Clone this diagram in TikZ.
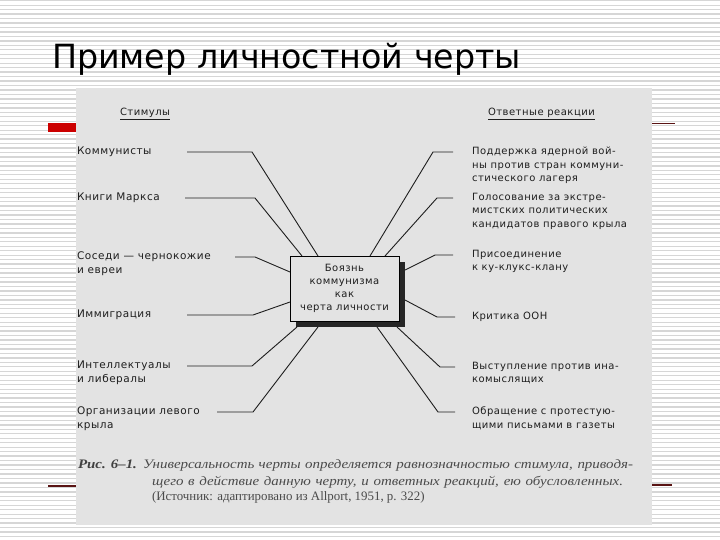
\documentclass[tikz,border=0pt]{standalone}
\usepackage{fontspec}
\setmainfont{Liberation Serif}
\newfontfamily\titlefont{DejaVu Sans}
\newfontfamily\scanfont[LetterSpace=5]{DejaVu Sans}
\newfontfamily\capfont[FakeStretch=1.15]{Liberation Serif}
\usetikzlibrary{calc,positioning,shadows}

\definecolor{stripe}{HTML}{D6D6D6}
\definecolor{scanbg}{HTML}{E3E3E3}
\definecolor{ink}{HTML}{1E1E1E}
\definecolor{capink}{HTML}{4A4A4A}
\definecolor{slidered}{HTML}{CC0000}
\definecolor{darkred}{HTML}{5A1414}

\tikzset{
  resp/.style={anchor=north west,align=left,text=ink,
    font=\scanfont\fontsize{10}{13.5}\selectfont},
  stim/.style={resp,font=\scanfont\fontsize{10.5}{13.5}\selectfont},
  head/.style={anchor=west,text=ink,font=\scanfont\fontsize{10}{12}\selectfont},
  wire/.style={draw=ink,line width=0.9pt},
  captext/.style={anchor=base west,text=capink,font=\capfont\fontsize{13}{15}\selectfont}
}

\begin{document}
\begin{tikzpicture}[x=1pt,y=-1pt,every node/.style={inner sep=0pt,outer sep=0pt}]
\useasboundingbox (0,0) rectangle (720,540);
\fill[white] (0,0) rectangle (720,540);
\foreach \k in {0,...,120}
  \draw[stripe,line width=1.3pt] (0,{0.7+4.465*\k}) -- (720,{0.7+4.465*\k});

% slide
\node[anchor=base west,font=\titlefont\fontsize{33.3}{34}\selectfont] (Title) at (52,69) {Пример личностной черты};
\fill[slidered] (48,123) rectangle (76,132);
\draw[darkred,line width=1.3pt] (650,123.5) -- (675,123.5);
\draw[darkred,line width=1.3pt] (48,486) -- (78,486);
\draw[darkred,line width=1.3pt] (650,485) -- (672,485);
\fill[scanbg] (76,88) rectangle (652,525);

% headers
\node[head] (Stimuly) at (120,114) {\underline{Стимулы}};
\node[head] (Reakcii) at (488,114) {\underline{Ответные реакции}};

% centre
\node[draw=black,line width=1pt,fill=scanbg,minimum width=109pt,minimum height=65pt,
  align=center,text=ink,font=\scanfont\fontsize{10}{13}\selectfont,
  drop shadow={shadow xshift=6pt,shadow yshift=-6pt,fill=black!85,opacity=1}]
  (Fear) at (344.5,288.5) {Боязнь\\коммунизма\\как\\черта личности};

% stimuli
\node[stim] (Kommunisty) at (77,147) {Коммунисты};
\node[stim] (Knigi) at (77,193) {Книги Маркса};
\node[stim] (Sosedi) at (77,252) {Соседи — чернокожие\\и евреи};
\node[stim] (Immigr) at (77,310) {Иммиграция};
\node[stim] (Intellekt) at (77,361) {Интеллектуалы\\и либералы};
\node[stim] (Organiz) at (77,407) {Организации левого\\крыла};

% responses
\node[resp] (Podderzhka) at (472,147) {Поддержка ядерной вой-\\ны против стран коммуни-\\стического лагеря};
\node[resp] (Golos) at (472,193) {Голосование за экстре-\\мистских политических\\кандидатов правого крыла};
\node[resp] (Prisoed) at (472,250) {Присоединение\\к ку-клукс-клану};
\node[resp] (Kritika) at (472,312) {Критика ООН};
\node[resp] (Vystup) at (472,362) {Выступление против ина-\\комыслящих};
\node[resp] (Obrash) at (472,407) {Обращение с протестую-\\щими письмами в газеты};

\draw[wire] ($(Kommunisty.north west)+(110,5)$) -- ++(65,0) -- ($(Fear.north west)+(28,0)$);
\draw[wire] ($(Knigi.north west)+(108,5)$) -- ++(70,0) -- ($(Fear.north west)+(12,0)$);
\draw[wire] ($(Sosedi.north west)+(158,5)$) -- ++(20,0) -- ($(Fear.north west)+(0,16)$);
\draw[wire] ($(Immigr.north west)+(110,5)$) -- ++(66,0) -- ($(Fear.north west)+(0,46)$);
\draw[wire] ($(Intellekt.north west)+(110,5)$) -- ++(65,0) -- ($(Fear.south west)+(7,6)$);
\draw[wire] ($(Organiz.north west)+(140,5)$) -- ++(36,0) -- ($(Fear.south west)+(28,6)$);

\draw[wire] ($(Podderzhka.north west)+(-19,5)$) -- ++(-20,0) -- ($(Fear.north west)+(80,0)$);
\draw[wire] ($(Golos.north west)+(-19,5)$) -- ++(-16,0) -- ($(Fear.north west)+(95,0)$);
\draw[wire] ($(Prisoed.north west)+(-19,5)$) -- ++(-18,0) -- ($(Fear.north east)+(6,14)$);
\draw[wire] ($(Kritika.north west)+(-17,5)$) -- ++(-18,0) -- ($(Fear.north east)+(6,44)$);
\draw[wire] ($(Vystup.north west)+(-17,5)$) -- ++(-15,0) -- ($(Fear.south east)+(-2,6)$);
\draw[wire] ($(Obrash.north west)+(-17,5)$) -- ++(-17,0) -- ($(Fear.south east)+(-22,6)$);

% caption
\node[captext,text=black!75] (CapNum) at (78,468) {\textbf{\textit{Рис. 6–1.}}};
\node[captext] (CapLine1) at (143,468) {\makebox[490pt][s]{\itshape Универсальность черты определяется равнозначностью стимула, приводя-}};
\node[captext] (CapLine2) at (152,485) {\makebox[471pt][s]{\itshape щего в действие данную черту, и ответных реакций, ею обусловленных.}};
\node[captext,font=\rmfamily\fontsize{12.9}{15}\selectfont] (CapLine3) at (152,500) {(Источник: адаптировано из Allport, 1951, p. 322)};
\end{tikzpicture}
\end{document}
